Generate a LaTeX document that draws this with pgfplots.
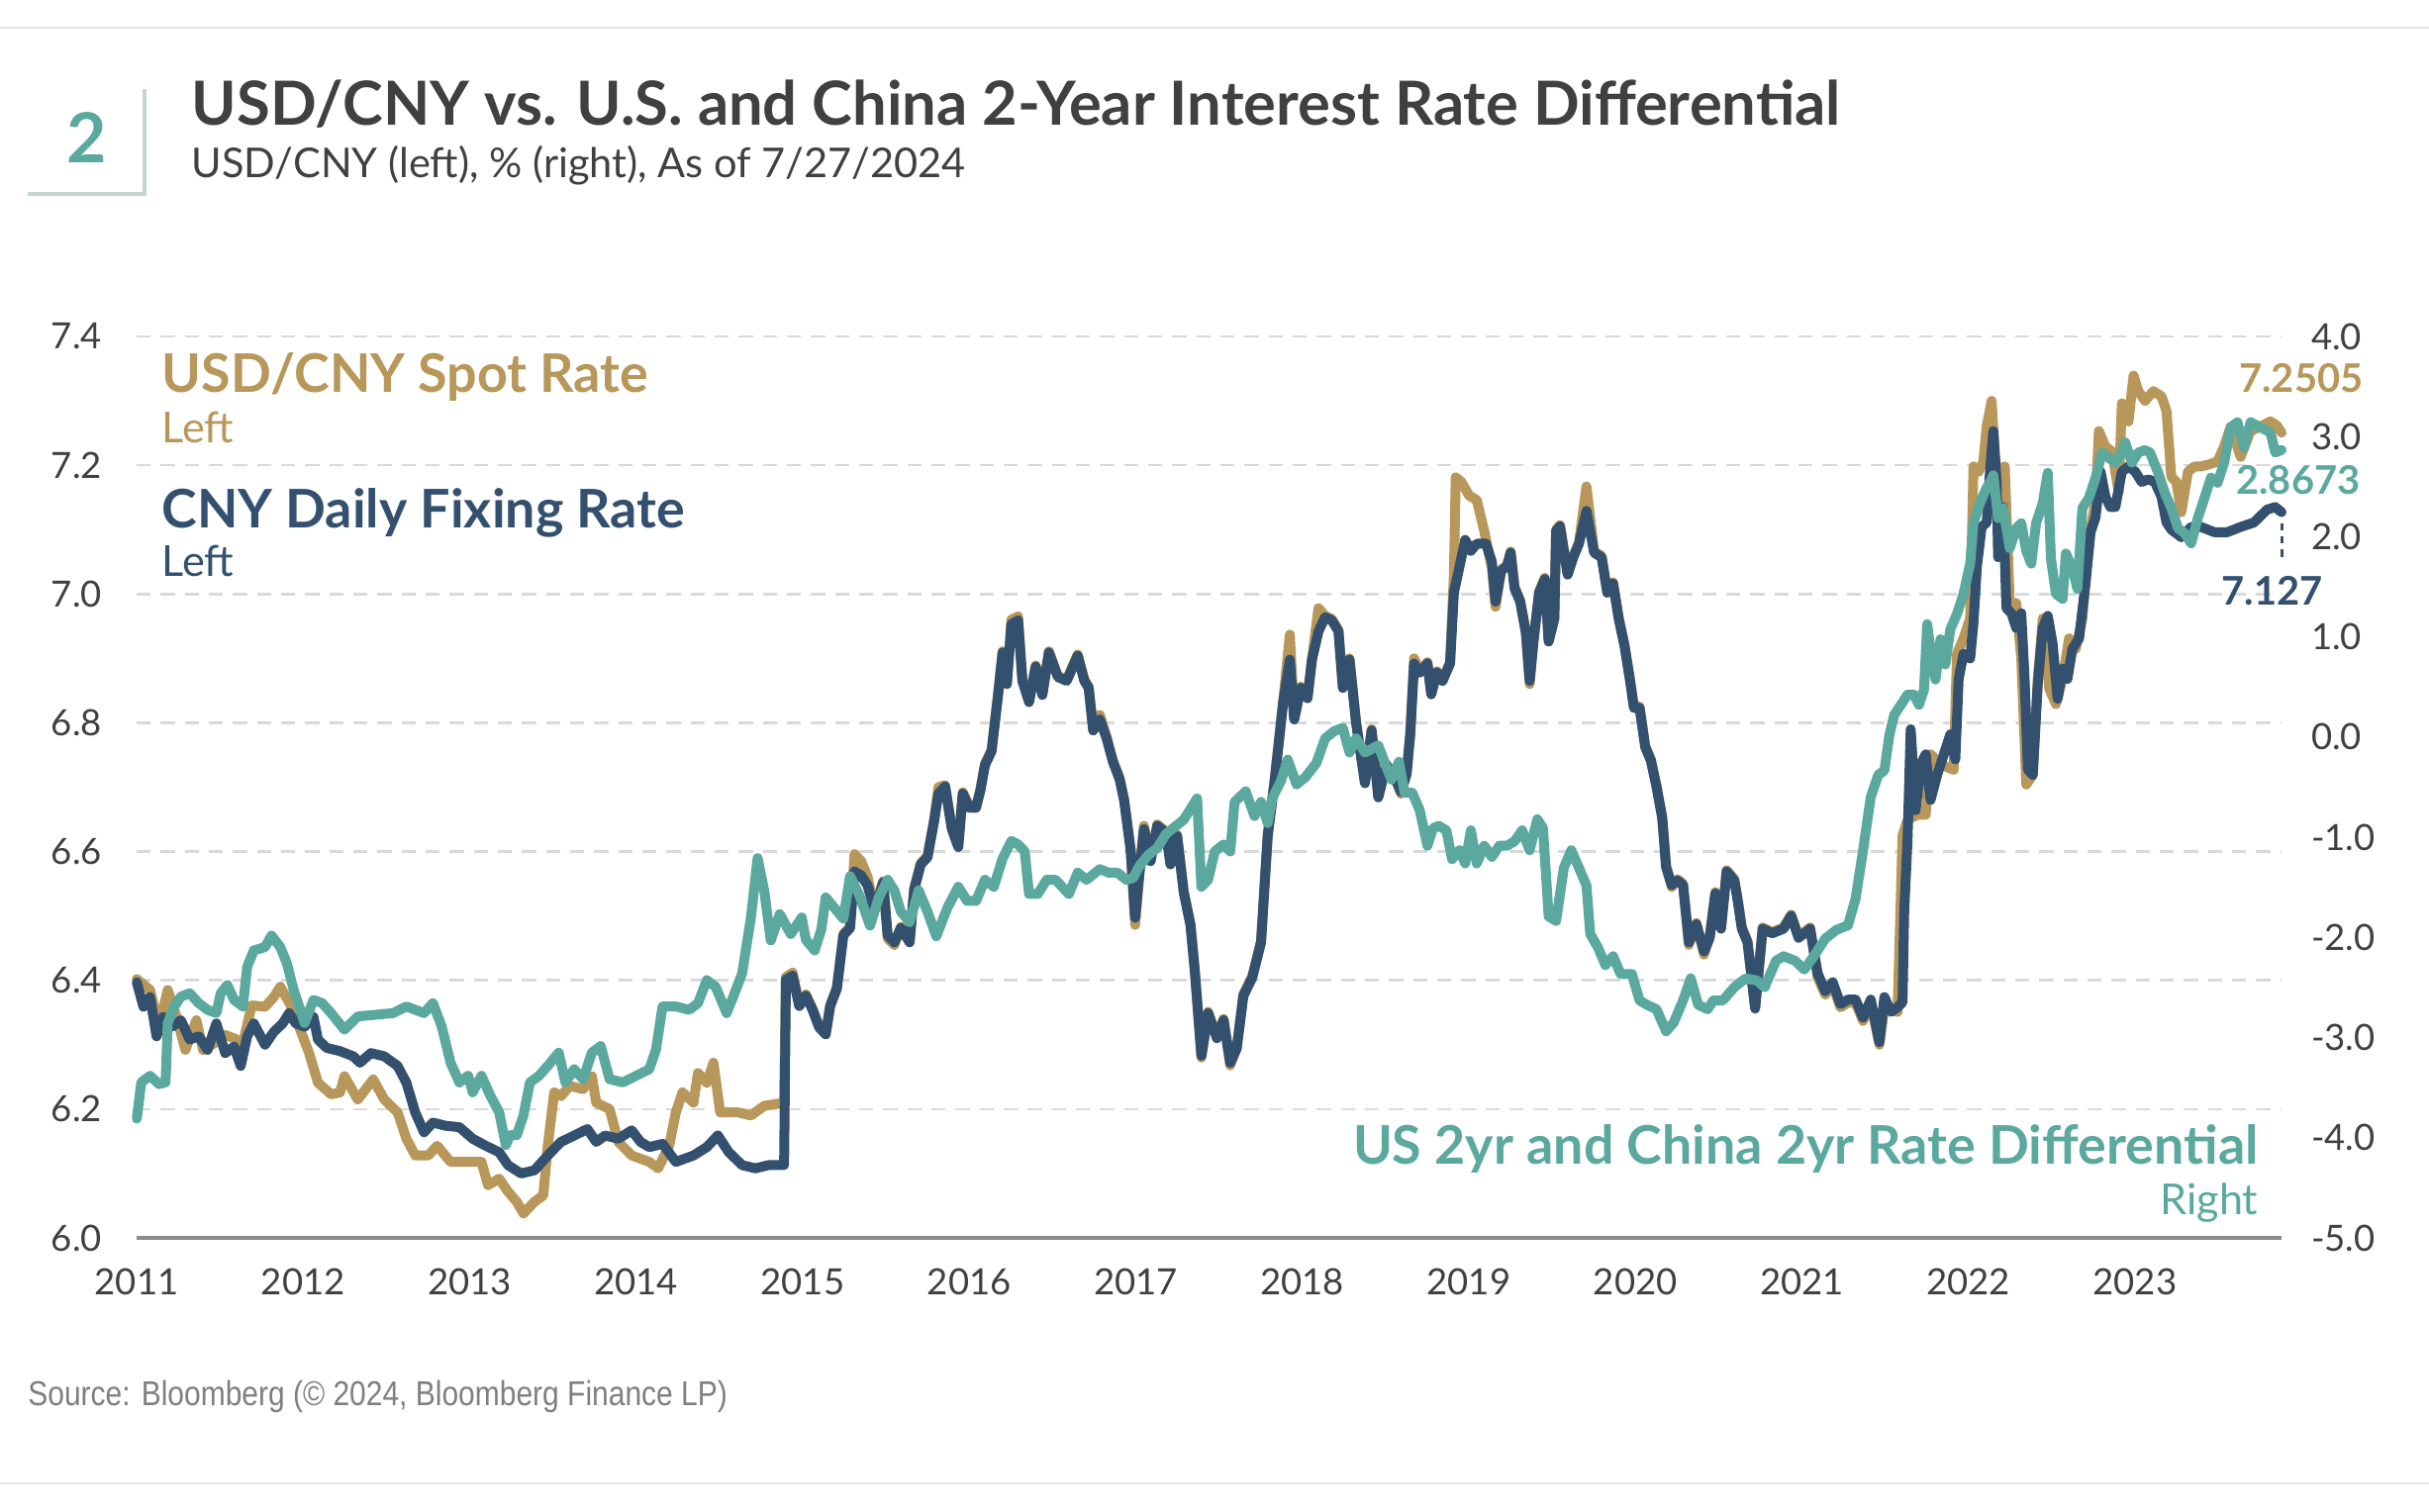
\documentclass[border=0pt]{standalone}
\usepackage{pgfplots}
\pgfplotsset{compat=1.18}
\usepackage{graphicx}
\usepackage{fontspec}
\setmainfont{Lato}
\newfontfamily\srcfont{Liberation Sans}
\definecolor{cgold}{HTML}{B8975A}
\definecolor{cnavy}{HTML}{34506F}
\definecolor{cteal}{HTML}{5BA99E}
\definecolor{ctitle}{HTML}{404040}
\definecolor{ctick}{HTML}{404040}
\definecolor{cgrid}{HTML}{D9D9D9}
\definecolor{caxis}{HTML}{8C8C8C}
\definecolor{cbrack}{HTML}{C5D5CB}
\definecolor{csrc}{HTML}{7F7F7F}
\definecolor{cframe}{HTML}{E3E3E3}

\pgfplotstableread{
x y
2011.001 6.402
2011.081 6.385
2011.134 6.328
2011.187 6.385
2011.240 6.343
2011.293 6.292
2011.359 6.338
2011.399 6.292
2011.465 6.302
2011.532 6.315
2011.585 6.310
2011.638 6.302
2011.691 6.361
2011.771 6.359
2011.824 6.374
2011.863 6.390
2011.930 6.359
2011.983 6.323
2012.036 6.287
2012.089 6.241
2012.168 6.223
2012.222 6.226
2012.248 6.251
2012.328 6.215
2012.421 6.246
2012.487 6.215
2012.567 6.195
2012.620 6.154
2012.673 6.128
2012.752 6.128
2012.805 6.143
2012.885 6.118
2012.991 6.118
2013.071 6.118
2013.110 6.082
2013.177 6.092
2013.230 6.072
2013.283 6.056
2013.323 6.038
2013.389 6.056
2013.442 6.066
2013.469 6.143
2013.508 6.226
2013.548 6.220
2013.601 6.236
2013.681 6.231
2013.734 6.251
2013.760 6.210
2013.840 6.200
2013.893 6.149
2013.973 6.128
2014.079 6.118
2014.132 6.108
2014.198 6.143
2014.238 6.195
2014.278 6.226
2014.344 6.210
2014.371 6.256
2014.424 6.241
2014.464 6.272
2014.504 6.195
2014.610 6.195
2014.689 6.190
2014.769 6.205
2014.888 6.210
2014.899 6.405
2014.939 6.412
2014.979 6.362
2015.019 6.378
2015.059 6.356
2015.098 6.329
2015.138 6.318
2015.165 6.362
2015.205 6.389
2015.244 6.472
2015.284 6.483
2015.311 6.596
2015.351 6.585
2015.390 6.560
2015.430 6.510
2015.483 6.554
2015.510 6.465
2015.550 6.455
2015.589 6.483
2015.642 6.461
2015.669 6.543
2015.709 6.582
2015.749 6.593
2015.788 6.648
2015.815 6.700
2015.855 6.703
2015.895 6.637
2015.934 6.609
2015.961 6.692
2016.001 6.670
2016.041 6.670
2016.067 6.697
2016.094 6.736
2016.134 6.758
2016.173 6.845
2016.200 6.911
2016.226 6.862
2016.253 6.960
2016.293 6.965
2016.319 6.867
2016.359 6.834
2016.399 6.889
2016.439 6.845
2016.478 6.911
2016.532 6.873
2016.585 6.867
2016.651 6.906
2016.691 6.867
2016.717 6.856
2016.744 6.790
2016.784 6.812
2016.823 6.779
2016.863 6.741
2016.903 6.714
2016.930 6.681
2016.969 6.604
2016.996 6.486
2017.023 6.571
2017.049 6.640
2017.089 6.587
2017.129 6.642
2017.182 6.631
2017.208 6.582
2017.248 6.626
2017.288 6.538
2017.328 6.488
2017.354 6.417
2017.394 6.280
2017.434 6.351
2017.487 6.312
2017.527 6.340
2017.567 6.268
2017.606 6.296
2017.646 6.378
2017.699 6.406
2017.752 6.461
2017.792 6.626
2017.832 6.708
2017.885 6.834
2017.925 6.937
2017.951 6.807
2017.991 6.856
2018.031 6.840
2018.058 6.900
2018.097 6.978
2018.137 6.966
2018.177 6.961
2018.217 6.944
2018.243 6.856
2018.283 6.900
2018.323 6.801
2018.376 6.708
2018.416 6.790
2018.456 6.686
2018.504 6.736
2018.557 6.715
2018.592 6.690
2018.626 6.722
2018.648 6.784
2018.671 6.900
2018.705 6.880
2018.751 6.894
2018.774 6.846
2018.808 6.880
2018.842 6.867
2018.887 6.894
2018.910 7.030
2018.921 7.181
2018.955 7.174
2019.001 7.153
2019.047 7.146
2019.092 7.098
2019.138 7.040
2019.160 6.980
2019.194 7.038
2019.229 7.045
2019.251 7.066
2019.274 7.011
2019.308 6.990
2019.342 6.942
2019.365 6.860
2019.388 6.928
2019.422 7.004
2019.456 7.025
2019.479 6.928
2019.513 6.963
2019.524 7.100
2019.547 7.107
2019.593 7.032
2019.627 7.059
2019.661 7.080
2019.706 7.167
2019.752 7.066
2019.797 7.059
2019.831 7.004
2019.866 7.018
2019.900 6.963
2019.934 6.922
2019.968 6.867
2019.991 6.825
2020.025 6.825
2020.059 6.764
2020.093 6.743
2020.127 6.702
2020.161 6.654
2020.184 6.578
2020.218 6.545
2020.252 6.557
2020.286 6.550
2020.321 6.455
2020.366 6.489
2020.412 6.440
2020.446 6.468
2020.480 6.537
2020.514 6.482
2020.548 6.571
2020.594 6.557
2020.616 6.523
2020.639 6.482
2020.673 6.461
2020.719 6.358
2020.764 6.482
2020.821 6.475
2020.889 6.482
2020.935 6.502
2020.980 6.468
2021.049 6.482
2021.094 6.405
2021.140 6.378
2021.185 6.392
2021.231 6.358
2021.276 6.365
2021.322 6.365
2021.367 6.337
2021.413 6.365
2021.465 6.300
2021.495 6.358
2021.574 6.351
2021.604 6.625
2021.634 6.649
2021.693 6.657
2021.743 6.657
2021.772 6.751
2021.832 6.735
2021.911 6.727
2021.931 6.907
2021.970 6.931
2022.010 6.962
2022.030 7.198
2022.060 7.190
2022.089 7.205
2022.109 7.260
2022.139 7.300
2022.159 7.213
2022.188 7.166
2022.218 7.198
2022.248 6.986
2022.287 6.986
2022.317 6.900
2022.347 6.704
2022.386 6.719
2022.416 6.868
2022.446 6.962
2022.485 6.853
2022.525 6.829
2022.565 6.868
2022.604 6.931
2022.644 6.915
2022.684 6.962
2022.723 7.088
2022.763 7.143
2022.783 7.253
2022.822 7.229
2022.862 7.221
2022.902 7.158
2022.921 7.296
2022.961 7.268
2022.991 7.339
2023.020 7.315
2023.060 7.300
2023.110 7.315
2023.159 7.307
2023.189 7.284
2023.218 7.182
2023.248 7.174
2023.278 7.127
2023.318 7.190
2023.357 7.198
2023.397 7.198
2023.456 7.202
2023.496 7.206
2023.535 7.229
2023.575 7.260
2023.634 7.213
2023.694 7.253
2023.753 7.260
2023.813 7.268
2023.850 7.262
2023.880 7.2505
}\spot

\pgfplotstableread{
x y
2011.001 6.397
2011.041 6.359
2011.081 6.374
2011.120 6.313
2011.160 6.343
2011.213 6.328
2011.266 6.338
2011.319 6.308
2011.373 6.313
2011.426 6.292
2011.479 6.333
2011.532 6.287
2011.585 6.297
2011.625 6.267
2011.664 6.313
2011.704 6.333
2011.771 6.300
2011.824 6.320
2011.877 6.333
2011.916 6.349
2011.956 6.333
2012.009 6.328
2012.062 6.343
2012.089 6.308
2012.142 6.295
2012.222 6.290
2012.301 6.282
2012.341 6.272
2012.407 6.287
2012.487 6.282
2012.567 6.267
2012.620 6.241
2012.673 6.195
2012.726 6.164
2012.779 6.179
2012.858 6.174
2012.938 6.172
2013.018 6.154
2013.097 6.143
2013.177 6.133
2013.230 6.113
2013.309 6.100
2013.389 6.105
2013.469 6.128
2013.548 6.149
2013.628 6.159
2013.707 6.169
2013.760 6.149
2013.813 6.159
2013.893 6.154
2013.973 6.167
2014.026 6.149
2014.079 6.141
2014.158 6.146
2014.238 6.118
2014.344 6.128
2014.424 6.141
2014.490 6.159
2014.556 6.133
2014.636 6.113
2014.716 6.108
2014.795 6.113
2014.888 6.113
2014.899 6.401
2014.939 6.407
2014.979 6.360
2015.019 6.376
2015.059 6.354
2015.098 6.327
2015.138 6.316
2015.165 6.360
2015.205 6.387
2015.244 6.470
2015.284 6.481
2015.311 6.569
2015.351 6.563
2015.390 6.547
2015.430 6.508
2015.483 6.552
2015.510 6.470
2015.550 6.459
2015.589 6.481
2015.642 6.459
2015.669 6.541
2015.709 6.580
2015.749 6.591
2015.788 6.646
2015.815 6.690
2015.855 6.701
2015.895 6.635
2015.934 6.607
2015.961 6.690
2016.001 6.668
2016.041 6.668
2016.067 6.695
2016.094 6.734
2016.134 6.756
2016.173 6.843
2016.200 6.909
2016.226 6.860
2016.253 6.953
2016.293 6.959
2016.319 6.865
2016.359 6.832
2016.399 6.887
2016.439 6.843
2016.478 6.909
2016.532 6.871
2016.585 6.865
2016.651 6.904
2016.691 6.865
2016.717 6.854
2016.744 6.788
2016.784 6.805
2016.823 6.777
2016.863 6.739
2016.903 6.712
2016.930 6.679
2016.969 6.602
2016.996 6.497
2017.023 6.569
2017.049 6.635
2017.089 6.585
2017.129 6.640
2017.182 6.629
2017.208 6.580
2017.248 6.624
2017.288 6.536
2017.328 6.486
2017.354 6.415
2017.394 6.283
2017.434 6.349
2017.487 6.310
2017.527 6.338
2017.567 6.272
2017.606 6.294
2017.646 6.376
2017.699 6.404
2017.752 6.459
2017.792 6.624
2017.832 6.706
2017.885 6.832
2017.925 6.898
2017.951 6.805
2017.991 6.854
2018.031 6.838
2018.058 6.898
2018.097 6.942
2018.137 6.964
2018.177 6.959
2018.217 6.942
2018.243 6.854
2018.283 6.898
2018.323 6.799
2018.376 6.706
2018.416 6.788
2018.456 6.684
2018.504 6.734
2018.557 6.713
2018.592 6.693
2018.626 6.720
2018.648 6.782
2018.671 6.892
2018.705 6.878
2018.751 6.892
2018.774 6.844
2018.808 6.878
2018.842 6.865
2018.887 6.892
2018.910 7.002
2018.944 7.043
2018.978 7.084
2019.012 7.067
2019.047 7.078
2019.103 7.078
2019.138 7.050
2019.160 6.988
2019.194 7.036
2019.229 7.043
2019.251 7.064
2019.274 7.009
2019.308 6.988
2019.342 6.940
2019.365 6.865
2019.388 6.926
2019.422 7.002
2019.456 7.023
2019.479 6.926
2019.513 6.961
2019.524 7.098
2019.547 7.105
2019.593 7.030
2019.627 7.057
2019.661 7.078
2019.706 7.129
2019.752 7.064
2019.797 7.057
2019.831 7.002
2019.866 7.016
2019.900 6.961
2019.934 6.920
2019.968 6.865
2019.991 6.823
2020.025 6.823
2020.059 6.762
2020.093 6.741
2020.127 6.700
2020.161 6.652
2020.184 6.576
2020.218 6.548
2020.252 6.555
2020.286 6.548
2020.321 6.459
2020.366 6.487
2020.412 6.445
2020.446 6.466
2020.480 6.535
2020.514 6.480
2020.548 6.569
2020.594 6.555
2020.616 6.521
2020.639 6.480
2020.673 6.459
2020.719 6.356
2020.764 6.480
2020.821 6.473
2020.889 6.480
2020.935 6.500
2020.980 6.466
2021.049 6.480
2021.094 6.411
2021.140 6.383
2021.185 6.397
2021.231 6.363
2021.276 6.370
2021.322 6.370
2021.367 6.342
2021.413 6.370
2021.465 6.304
2021.495 6.374
2021.535 6.351
2021.574 6.358
2021.604 6.366
2021.614 6.507
2021.634 6.617
2021.653 6.790
2021.683 6.664
2021.713 6.735
2021.743 6.751
2021.772 6.680
2021.812 6.719
2021.852 6.751
2021.891 6.782
2021.921 6.743
2021.941 6.868
2021.970 6.907
2022.010 6.900
2022.030 6.955
2022.050 7.041
2022.079 7.104
2022.109 7.111
2022.129 7.190
2022.149 7.253
2022.169 7.174
2022.178 7.057
2022.208 7.135
2022.228 6.978
2022.258 6.970
2022.287 6.947
2022.317 6.970
2022.337 6.868
2022.357 6.727
2022.386 6.719
2022.416 6.860
2022.446 6.947
2022.476 6.966
2022.505 6.923
2022.535 6.837
2022.565 6.884
2022.594 6.868
2022.624 6.915
2022.664 6.931
2022.703 7.017
2022.733 7.096
2022.763 7.119
2022.793 7.190
2022.822 7.151
2022.852 7.135
2022.882 7.135
2022.921 7.190
2022.961 7.198
2023.001 7.190
2023.040 7.174
2023.080 7.178
2023.119 7.174
2023.159 7.151
2023.189 7.111
2023.218 7.100
2023.278 7.088
2023.337 7.104
2023.397 7.104
2023.476 7.096
2023.555 7.096
2023.634 7.104
2023.714 7.111
2023.793 7.131
2023.842 7.135
2023.880 7.127
}\fixing

\pgfplotstableread{
x y
2011.001 -3.810
2011.028 -3.448
2011.081 -3.382
2011.134 -3.464
2011.174 -3.448
2011.187 -2.855
2011.227 -2.690
2011.266 -2.591
2011.319 -2.558
2011.373 -2.657
2011.426 -2.723
2011.479 -2.756
2011.505 -2.558
2011.545 -2.476
2011.585 -2.624
2011.638 -2.690
2011.664 -2.295
2011.704 -2.130
2011.771 -2.097
2011.810 -1.982
2011.863 -2.097
2011.903 -2.262
2011.943 -2.525
2011.983 -2.723
2012.009 -2.855
2012.062 -2.624
2012.115 -2.657
2012.168 -2.756
2012.248 -2.921
2012.328 -2.789
2012.434 -2.773
2012.540 -2.756
2012.620 -2.690
2012.726 -2.756
2012.779 -2.657
2012.832 -2.888
2012.885 -3.250
2012.938 -3.448
2012.991 -3.382
2013.018 -3.547
2013.071 -3.382
2013.124 -3.580
2013.177 -3.744
2013.217 -4.074
2013.243 -3.975
2013.283 -3.975
2013.323 -3.777
2013.362 -3.448
2013.416 -3.382
2013.469 -3.283
2013.535 -3.151
2013.575 -3.448
2013.628 -3.316
2013.681 -3.415
2013.734 -3.151
2013.787 -3.085
2013.840 -3.415
2013.920 -3.448
2013.999 -3.382
2014.079 -3.316
2014.119 -3.118
2014.158 -2.690
2014.238 -2.690
2014.318 -2.723
2014.371 -2.657
2014.424 -2.427
2014.477 -2.493
2014.543 -2.756
2014.583 -2.591
2014.636 -2.361
2014.689 -1.801
2014.729 -1.208
2014.769 -1.537
2014.808 -2.031
2014.862 -1.768
2014.928 -1.966
2014.994 -1.801
2015.019 -2.025
2015.072 -2.130
2015.112 -1.919
2015.138 -1.601
2015.191 -1.707
2015.244 -1.813
2015.284 -1.389
2015.337 -1.566
2015.404 -1.883
2015.457 -1.601
2015.510 -1.425
2015.550 -1.531
2015.589 -1.742
2015.642 -1.848
2015.696 -1.531
2015.749 -1.742
2015.802 -1.989
2015.868 -1.707
2015.934 -1.495
2015.987 -1.636
2016.041 -1.636
2016.094 -1.425
2016.147 -1.495
2016.200 -1.213
2016.253 -1.037
2016.293 -1.072
2016.333 -1.142
2016.359 -1.566
2016.412 -1.566
2016.465 -1.425
2016.518 -1.425
2016.598 -1.566
2016.651 -1.354
2016.704 -1.425
2016.784 -1.319
2016.837 -1.354
2016.890 -1.354
2016.943 -1.425
2016.983 -1.407
2017.023 -1.284
2017.076 -1.177
2017.129 -1.107
2017.182 -0.966
2017.235 -0.895
2017.288 -0.825
2017.368 -0.613
2017.394 -1.495
2017.434 -1.425
2017.474 -1.142
2017.527 -1.072
2017.567 -1.142
2017.593 -0.648
2017.660 -0.542
2017.713 -0.789
2017.752 -0.648
2017.792 -0.860
2017.819 -0.613
2017.872 -0.437
2017.912 -0.225
2017.965 -0.472
2018.018 -0.401
2018.084 -0.260
2018.137 -0.013
2018.190 0.058
2018.243 0.093
2018.283 -0.154
2018.323 -0.013
2018.376 -0.154
2018.456 -0.084
2018.504 -0.295
2018.535 -0.424
2018.580 -0.247
2018.614 -0.556
2018.660 -0.556
2018.705 -0.732
2018.751 -1.085
2018.785 -0.909
2018.819 -0.887
2018.865 -0.931
2018.899 -1.218
2018.944 -1.130
2018.978 -1.262
2019.012 -0.931
2019.047 -1.262
2019.092 -1.085
2019.138 -1.196
2019.183 -1.085
2019.229 -1.085
2019.274 -1.041
2019.320 -0.931
2019.365 -1.130
2019.411 -0.821
2019.445 -0.909
2019.479 -1.791
2019.524 -1.835
2019.570 -1.306
2019.615 -1.130
2019.661 -1.306
2019.706 -1.482
2019.729 -1.968
2019.775 -2.100
2019.820 -2.277
2019.866 -2.188
2019.911 -2.365
2019.979 -2.365
2020.025 -2.630
2020.070 -2.674
2020.127 -2.718
2020.184 -2.938
2020.230 -2.850
2020.286 -2.630
2020.332 -2.409
2020.377 -2.674
2020.434 -2.718
2020.468 -2.630
2020.525 -2.630
2020.594 -2.497
2020.662 -2.409
2020.730 -2.431
2020.776 -2.497
2020.844 -2.233
2020.889 -2.188
2020.958 -2.233
2021.014 -2.321
2021.071 -2.188
2021.140 -2.012
2021.208 -1.924
2021.276 -1.880
2021.322 -1.615
2021.367 -1.130
2021.413 -0.600
2021.458 -0.379
2021.495 -0.333
2021.525 0.020
2021.554 0.221
2021.594 0.322
2021.634 0.423
2021.673 0.423
2021.703 0.322
2021.733 0.473
2021.752 1.128
2021.772 0.876
2021.802 0.574
2021.832 0.977
2021.861 0.725
2021.891 1.077
2021.931 1.229
2021.970 1.430
2022.010 1.732
2022.030 2.135
2022.069 2.337
2022.109 2.488
2022.129 2.539
2022.149 2.614
2022.178 2.186
2022.208 2.287
2022.248 1.884
2022.287 2.085
2022.317 2.135
2022.347 1.858
2022.377 1.732
2022.406 2.135
2022.446 2.337
2022.476 2.639
2022.495 1.783
2022.525 1.430
2022.565 1.380
2022.585 1.833
2022.624 1.682
2022.654 1.480
2022.684 2.287
2022.723 2.387
2022.763 2.589
2022.803 2.841
2022.842 2.790
2022.882 2.740
2022.921 2.841
2022.941 2.942
2022.981 2.740
2023.020 2.841
2023.060 2.866
2023.090 2.841
2023.139 2.639
2023.179 2.438
2023.218 2.287
2023.258 2.085
2023.298 2.035
2023.337 1.934
2023.377 2.186
2023.417 2.387
2023.456 2.589
2023.496 2.539
2023.535 2.740
2023.575 3.093
2023.615 3.143
2023.654 2.891
2023.694 3.143
2023.753 3.093
2023.813 3.042
2023.842 2.841
2023.880 2.867
}\diff

\begin{document}
\begin{tikzpicture}[x=1bp,y=1bp]
\path[use as bounding box] (0,0) rectangle (736.2,458.4);
\fill[white] (0,0) rectangle (736.2,458.4);
\draw[cframe, line width=0.6bp] (0,450) -- (736.2,450);
\draw[cframe, line width=0.6bp] (0,8.7) -- (736.2,8.7);
% header
\draw[cbrack, line width=1.1bp] (8.4,399.6) -- (43.8,399.6) -- (43.8,431.4);
\node[anchor=base, inner sep=0pt, text=cteal, font=\fontsize{21}{24}\selectfont\bfseries] at (26.3,408.9) {2};
\node[anchor=base west, inner sep=0pt, text=ctitle, font=\fontsize{18.5}{22}\selectfont\bfseries] at (57.9,420.3) {USD/CNY vs. U.S. and China 2-Year Interest Rate Differential};
\node[anchor=base west, inner sep=0pt, text=ctitle, font=\fontsize{12.5}{15}\selectfont] at (57.9,404.4) {USD/CNY (left), \% (right), As of 7/27/2024};

\begin{axis}[
  at={(41.4bp,83.1bp)}, anchor=south west, scale only axis,
  width=650.1bp, height=273.3bp,
  xmin=2011, xmax=2023.88, ymin=6, ymax=7.4,
  axis x line*=bottom, axis y line*=left,
  x axis line style={draw=caxis, line width=1.2bp, -},
  y axis line style={draw=none},
  xtick={2011,2012,2013,2014,2015,2016,2017,2018,2019,2020,2021,2022,2023},
  xticklabels={2011,2012,2013,2014,2015,2016,2017,2018,2019,2020,2021,2022,2023},
  ytick={6,6.2,6.4,6.6,6.8,7,7.2,7.4},
  major tick length=0pt,
  ymajorgrids, grid style={draw=cgrid, dash pattern=on 4.3bp off 3bp, line width=0.8bp},
  tick label style={font=\fontsize{11}{13}\selectfont, text=ctick},
  /pgf/number format/assume math mode=true,
  yticklabel={\pgfmathprintnumber[fixed,fixed zerofill,precision=1]{\tick}},
  yticklabel style={xshift=-7bp},
  xticklabel style={yshift=-5.8bp},
  clip=false,
]
\addplot[cgold, line width=3bp, line join=round, line cap=round] table[x=x,y=y] {\spot};
\addplot[cnavy, line width=3bp, line join=round, line cap=round] table[x=x,y=y] {\fixing};
\draw[cnavy, line width=0.9bp, dash pattern=on 2.2bp off 1.8bp] (axis cs:2023.88,7.11) -- (axis cs:2023.88,7.05);
\end{axis}

\begin{axis}[
  at={(41.4bp,83.1bp)}, anchor=south west, scale only axis,
  width=650.1bp, height=273.3bp,
  xmin=2011, xmax=2023.88, ymin=-5, ymax=4,
  axis x line=none, axis y line*=right,
  y axis line style={draw=none},
  ytick={-5,-4,-3,-2,-1,0,1,2,3,4},
  major tick length=0pt,
  tick label style={font=\fontsize{11}{13}\selectfont, text=ctick},
  /pgf/number format/assume math mode=true,
  yticklabel={\pgfmathprintnumber[fixed,fixed zerofill,precision=1]{\tick}},
  yticklabel style={xshift=5.5bp},
  clip=false,
]
\addplot[cteal, line width=3bp, line join=round, line cap=round] table[x=x,y=y] {\diff};
\end{axis}

% series labels
\node[anchor=base west, inner sep=0pt, text=cgold, font=\fontsize{16.2}{19}\selectfont\bfseries] at (48.9,339.4) {USD/CNY Spot Rate};
\node[anchor=base west, inner sep=0pt, text=cgold, font=\fontsize{13}{16}\selectfont] at (48.9,324) {Left};
\node[anchor=base west, inner sep=0pt, text=cnavy, font=\fontsize{16.2}{19}\selectfont\bfseries] at (48.9,298.4) {CNY Daily Fixing Rate};
\node[anchor=base west, inner sep=0pt, text=cnavy, font=\fontsize{13}{16}\selectfont] at (48.9,283.5) {Left};
\node[anchor=base east, inner sep=0pt, text=cteal, font=\fontsize{16.2}{19}\selectfont\bfseries] at (684.6,105.4) {US 2yr and China 2yr Rate Differential};
\node[anchor=base east, inner sep=0pt, text=cteal, font=\fontsize{13}{16}\selectfont] at (684.6,90) {Right};
% end values
\node[anchor=base east, inner sep=0pt, text=cgold, font=\fontsize{12}{14}\selectfont\bfseries] at (716.4,339.3) {7.2505};
\node[anchor=base east, inner sep=0pt, text=cteal, font=\fontsize{12}{14}\selectfont\bfseries] at (715.5,308.4) {2.8673};
\node[anchor=base east, inner sep=0pt, text=cnavy, font=\fontsize{12}{14}\selectfont\bfseries] at (704.1,274.8) {7.127};
% source
\node[anchor=base west, inner sep=0pt, text=csrc, font=\srcfont\fontsize{10.5}{12}\selectfont] at (8.3,32.1) {\scalebox{0.86}[1]{Source: Bloomberg (© 2024, Bloomberg Finance LP)}};
\end{tikzpicture}
\end{document}
